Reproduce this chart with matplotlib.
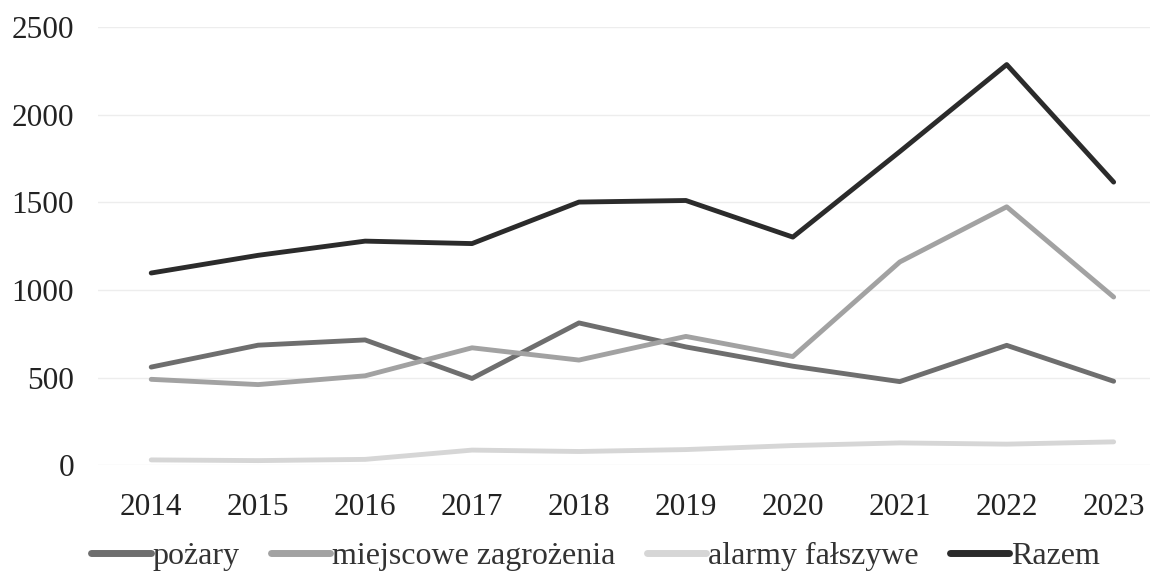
"""Line chart: fire brigade interventions by type, 2014-2023."""

import matplotlib
matplotlib.use("Agg")
import matplotlib.pyplot as plt
import numpy as np

years = ["2014", "2015", "2016", "2017", "2018", "2019", "2020", "2021", "2022", "2023"]
pozary = [560, 685, 715, 495, 812, 675, 565, 477, 684, 479]
miejscowe = [490, 460, 510, 670, 600, 735, 620, 1160, 1475, 960]
alarmy = [30, 26, 33, 86, 78, 89, 112, 127, 120, 133]
razem = [1097, 1198, 1279, 1265, 1502, 1511, 1302, 1790, 2287, 1616]

series = [
    ("pożary", pozary, "#6e6e6e"),
    ("miejscowe zagrożenia", miejscowe, "#a2a2a2"),
    ("alarmy fałszywe", alarmy, "#d6d6d6"),
    ("Razem", razem, "#2b2b2b"),
]

plt.rcParams["font.family"] = ["Liberation Serif", "DejaVu Serif"]

fig = plt.figure(figsize=(11.5, 5.8), dpi=100)
ax = fig.add_axes([0.085, 0.198, 0.915, 0.755])

x = np.arange(len(years))
for label, vals, col in series:
    ax.plot(x, vals, color=col, lw=3.5, label=label, solid_capstyle="round")

ax.set_xlim(-0.5, 9.34)
ax.set_ylim(0, 2500)
ax.set_yticks(np.arange(0, 2501, 500))
ax.set_xticks(x)
ax.set_xticklabels(years)
ax.yaxis.grid(True, color="#ededed", lw=1.0)
ax.set_axisbelow(True)
for s in ax.spines.values():
    s.set_visible(False)
ax.tick_params(axis="both", length=0, labelsize=22.5, colors="#222222")
ax.tick_params(axis="y", pad=17)
ax.tick_params(axis="x", pad=20)

leg = fig.legend(
    loc="center", bbox_to_anchor=(0.518, 0.04), ncol=4, frameon=False,
    fontsize=23, handlelength=1.85, handletextpad=0.05, columnspacing=1.0,
    labelcolor="#333333",
)
for line in leg.get_lines():
    line.set_linewidth(5)

fig.savefig("out.png", dpi=100)
